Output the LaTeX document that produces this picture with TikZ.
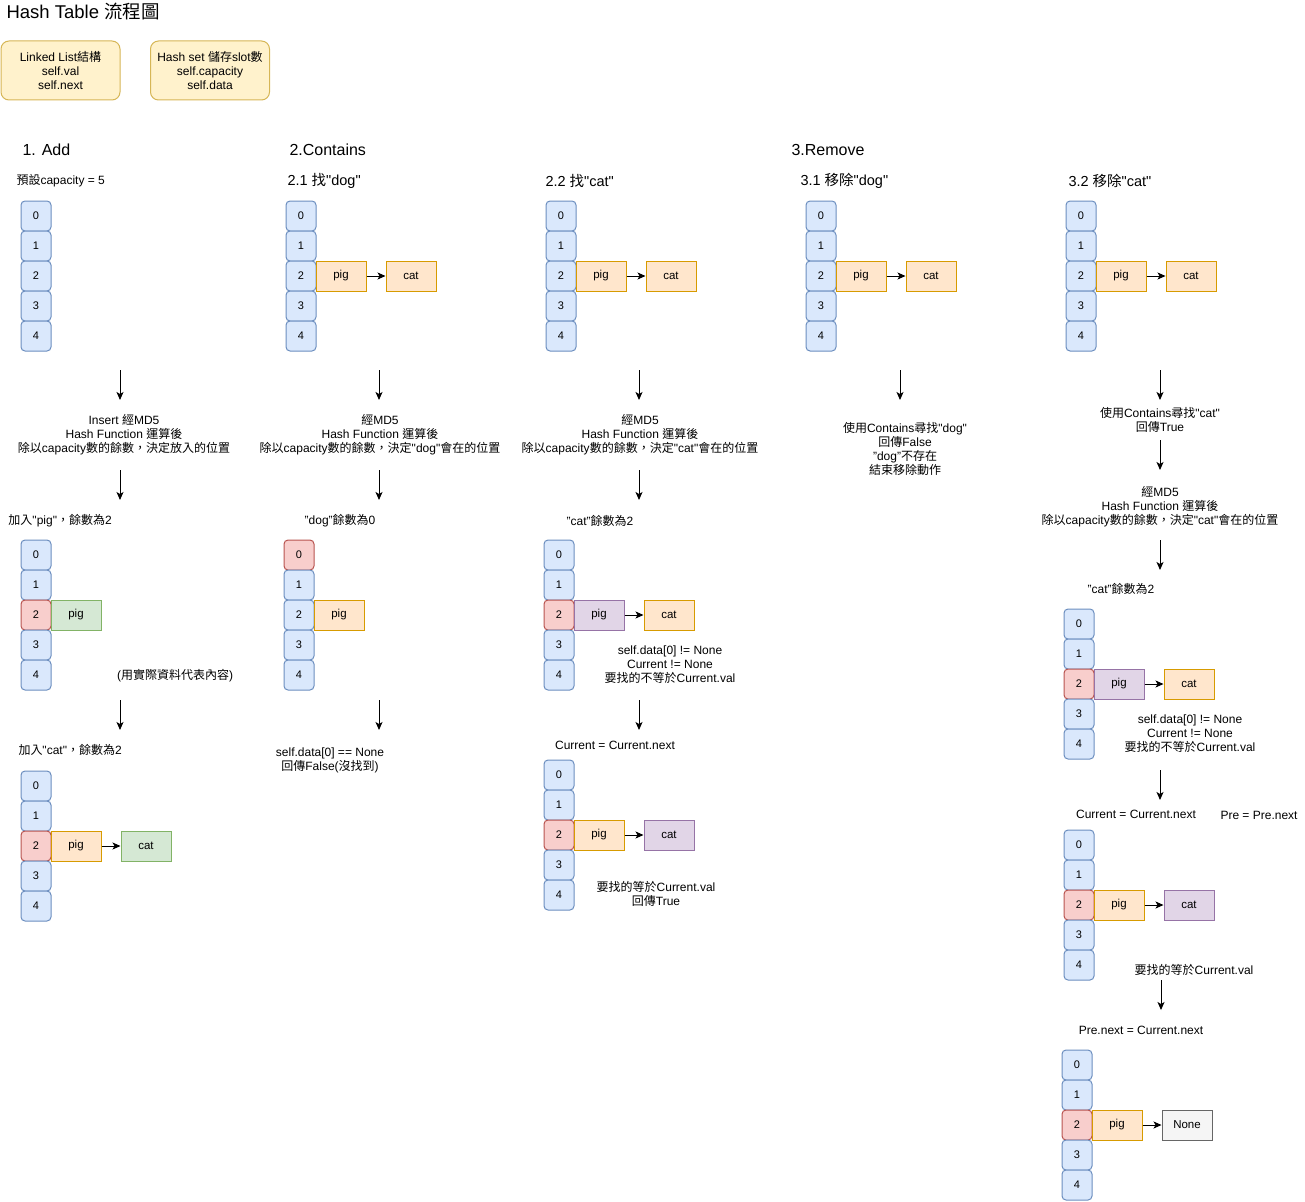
\documentclass[tikz,border=0pt]{standalone}
\usepackage{fontspec}
\setmainfont{Liberation Sans}
\newfontfamily\latinfont{Liberation Sans}
\newfontfamily\cjkfont{Noto Sans CJK TC}
\newXeTeXintercharclass\cjkclass
\newcount\cjkcode
\cjkcode="21 \loop\XeTeXcharclass\cjkcode=0 \advance\cjkcode by 1 \ifnum\cjkcode<"7F \repeat
\cjkcode="3000 \loop\XeTeXcharclass\cjkcode=\cjkclass\advance\cjkcode by 1 \ifnum\cjkcode<"3040 \repeat
\cjkcode="4E00 \loop\XeTeXcharclass\cjkcode=\cjkclass\advance\cjkcode by 1 \ifnum\cjkcode<"A000 \repeat
\cjkcode="FF00 \loop\XeTeXcharclass\cjkcode=\cjkclass\advance\cjkcode by 1 \ifnum\cjkcode<"FFF0 \repeat
\XeTeXinterchartoks 0 \cjkclass = {\cjkfont}
\XeTeXinterchartoks 4095 \cjkclass = {\cjkfont}
\XeTeXinterchartoks \cjkclass 0 = {\latinfont}
\XeTeXinterchartoks \cjkclass 4095 = {\latinfont}
\XeTeXinterchartokenstate=1
\usepackage{tikz}
\usetikzlibrary{arrows.meta,positioning}

\definecolor{slotfill}{HTML}{DAE8FC}
\definecolor{slotline}{HTML}{6C8EBF}
\definecolor{hotfill}{HTML}{F8CECC}
\definecolor{hotline}{HTML}{B85450}
\definecolor{orfill}{HTML}{FFE6CC}
\definecolor{orline}{HTML}{D79B00}
\definecolor{grfill}{HTML}{D5E8D4}
\definecolor{grline}{HTML}{82B366}
\definecolor{pufill}{HTML}{E1D5E7}
\definecolor{puline}{HTML}{9673A6}
\definecolor{nofill}{HTML}{F5F5F5}
\definecolor{noline}{HTML}{666666}
\definecolor{notefill}{HTML}{FFF2CC}
\definecolor{noteline}{HTML}{D6B656}

\tikzset{
    slot/.style={draw=slotline, fill=slotfill, rounded corners=4pt, minimum width=30pt, minimum height=30pt, font=\fontsize{11}{13}\selectfont},
    hot/.style={slot, draw=hotline, fill=hotfill},
    cellof/.code={\ifnum#1=\hotidx\relax\tikzset{hot}\else\tikzset{slot}\fi},
    entry/.style={minimum width=50pt, minimum height=30pt, font=\fontsize{11.5}{13}\selectfont},
    orbox/.style={entry, draw=orline, fill=orfill},
    grbox/.style={entry, draw=grline, fill=grfill},
    pubox/.style={entry, draw=puline, fill=pufill},
    nobox/.style={entry, draw=noline, fill=nofill},
    note/.style={draw=noteline, fill=notefill, rounded corners=8pt, minimum width=119pt, minimum height=59pt, align=center},
    lbl/.style={align=center},
    head/.style={anchor=west, font=\fontsize{16}{18}\selectfont},
    sub/.style={anchor=west, font=\fontsize{14.5}{16}\selectfont}
}

\newcommand{\hashslots}[4]{\def\hotidx{#4}%
    \foreach \i in {0,...,4}
        \node[cellof=\i] (#1-\i) at (#2,#3+30*\i) {\i};}

\begin{document}
\begin{tikzpicture}[x=1pt, y=-1pt, line width=1pt, >={Stealth[length=8pt,width=7pt,inset=2pt]},
    every node/.style={font=\fontsize{12}{14}\selectfont, inner sep=0pt}]
    \useasboundingbox (0,0) rectangle (1305,1201);

    \node[anchor=west, font=\fontsize{18.5}{21}\selectfont] (title) at (6,11) {Hash Table 流程圖};
    \node[note] (listnote) at (60.5,70.5) {Linked List結構\\self.val\\self.next};
    \node[note] (setnote) at (210,70.5) {Hash set 儲存slot數\\self.capacity\\self.data};

    \node[head] (addhead) at (22,150) {1. Add};
    \node[head] (conhead) at (289,150) {2.Contains};
    \node[head] (remhead) at (791,150) {3.Remove};
    \node[anchor=west] (addsub) at (16,181) {預設capacity = 5};
    \node[sub] (dogsub) at (287,181) {2.1 找"dog"};
    \node[sub] (catsub) at (545,181) {2.2 找"cat"};
    \node[sub] (rdogsub) at (800,181) {3.1 移除"dog"};
    \node[sub] (rcatsub) at (1068,181) {3.2 移除"cat"};

    \hashslots{a1}{36}{216}{-1}
    \hashslots{c1}{301}{216}{-1}
    \hashslots{d1}{561}{216}{-1}
    \hashslots{r1}{821}{216}{-1}
    \hashslots{s1}{1081}{216}{-1}
    \foreach \t in {c1,d1,r1,s1}{
        \node[orbox, right=-1pt of \t-2] (\t-pig) {pig};
        \node[orbox, right=19pt of \t-pig] (\t-cat) {cat};
        \draw[->] (\t-pig) -- (\t-cat);
    }

    \foreach \n/\x/\ya/\yb in {a1/120/370/400, a2/120/470/500, a3/120/700/730,
        c1/379/370/400, c2/379/470/500, c3/379/700/730,
        d1/639/370/400, d2/639/470/500, d3/639/700/730,
        r1/900/370/400, s1/1160/370/400, s2/1160/440/470, s3/1160/540/570,
        s4/1160/770/800, s5/1161/980/1010}{
        \coordinate (\n-top) at (\x,\ya);
        \coordinate (\n-tip) at (\x,\yb);
        \draw[->] (\n-top) -- (\n-tip);
    }

    \node[lbl] (addhash) at (124,435) {Insert 經MD5\\Hash Function 運算後\\除以capacity數的餘數，決定放入的位置};
    \node[anchor=west] (addpig) at (8,521) {加入"pig"，餘數為2};
    \hashslots{a2}{36}{555}{2}
    \node[grbox, right=-1pt of a2-2] (a2-pig) {pig};
    \node (addnote) at (175,676) {(用實際資料代表內容)};
    \node[anchor=west] (addcat) at (18,750) {加入"cat"，餘數為2};
    \hashslots{a3}{36}{786}{2}
    \node[orbox, right=-1pt of a3-2] (a3-pig) {pig};
    \node[grbox, right=19pt of a3-pig] (a3-cat) {cat};
    \draw[->] (a3-pig) -- (a3-cat);

    \node[lbl] (conhash) at (380,435) {經MD5\\Hash Function 運算後\\除以capacity數的餘數，決定"dog"會在的位置};
    \node (conrest) at (340,521) {"dog"餘數為0};
    \hashslots{c2}{299}{555}{0}
    \node[orbox, right=-1pt of c2-2] (c2-pig) {pig};
    \node[lbl] (conres) at (330,760) {self.data[0] == None\\回傳False(沒找到)};

    \node[lbl] (cathash) at (640,435) {經MD5\\Hash Function 運算後\\除以capacity數的餘數，決定"cat"會在的位置};
    \node (catrest) at (600,521) {"cat"餘數為2};
    \hashslots{d2}{559}{555}{2}
    \node[pubox, right=-1pt of d2-2] (d2-pig) {pig};
    \node[orbox, right=19pt of d2-pig] (d2-cat) {cat};
    \draw[->] (d2-pig) -- (d2-cat);
    \node[lbl] (catcheck) at (670,665) {self.data[0] != None\\Current != None\\要找的不等於Current.val};
    \node (catnext) at (615,745) {Current = Current.next};
    \hashslots{d3}{559}{775}{2}
    \node[orbox, right=-1pt of d3-2] (d3-pig) {pig};
    \node[pubox, right=19pt of d3-pig] (d3-cat) {cat};
    \draw[->] (d3-pig) -- (d3-cat);
    \node[lbl] (catres) at (656,894) {要找的等於Current.val\\回傳True};

    \node[lbl] (rdogres) at (905,449) {使用Contains尋找"dog"\\回傳False\\"dog"不存在\\結束移除動作};

    \node[lbl] (rcatfind) at (1160,420) {使用Contains尋找"cat"\\回傳True};
    \node[lbl] (rcathash) at (1160,507) {經MD5\\Hash Function 運算後\\除以capacity數的餘數，決定"cat"會在的位置};
    \node (rcatrest) at (1121,589) {"cat"餘數為2};
    \hashslots{s2}{1079}{624}{2}
    \node[pubox, right=-1pt of s2-2] (s2-pig) {pig};
    \node[orbox, right=19pt of s2-pig] (s2-cat) {cat};
    \draw[->] (s2-pig) -- (s2-cat);
    \node[lbl] (rcatcheck) at (1190,734) {self.data[0] != None\\Current != None\\要找的不等於Current.val};
    \node (rcatnext) at (1136,814) {Current = Current.next};
    \node (rprenext) at (1259,815) {Pre = Pre.next};
    \hashslots{s3}{1079}{845}{2}
    \node[orbox, right=-1pt of s3-2] (s3-pig) {pig};
    \node[pubox, right=19pt of s3-pig] (s3-cat) {cat};
    \draw[->] (s3-pig) -- (s3-cat);
    \node (rcatfound) at (1194,970) {要找的等於Current.val};
    \node (rcatlink) at (1141,1030) {Pre.next = Current.next};
    \hashslots{s4}{1077}{1065}{2}
    \node[orbox, right=-1pt of s4-2] (s4-pig) {pig};
    \node[nobox, right=19pt of s4-pig] (s4-none) {None};
    \draw[->] (s4-pig) -- (s4-none);
\end{tikzpicture}
\end{document}
